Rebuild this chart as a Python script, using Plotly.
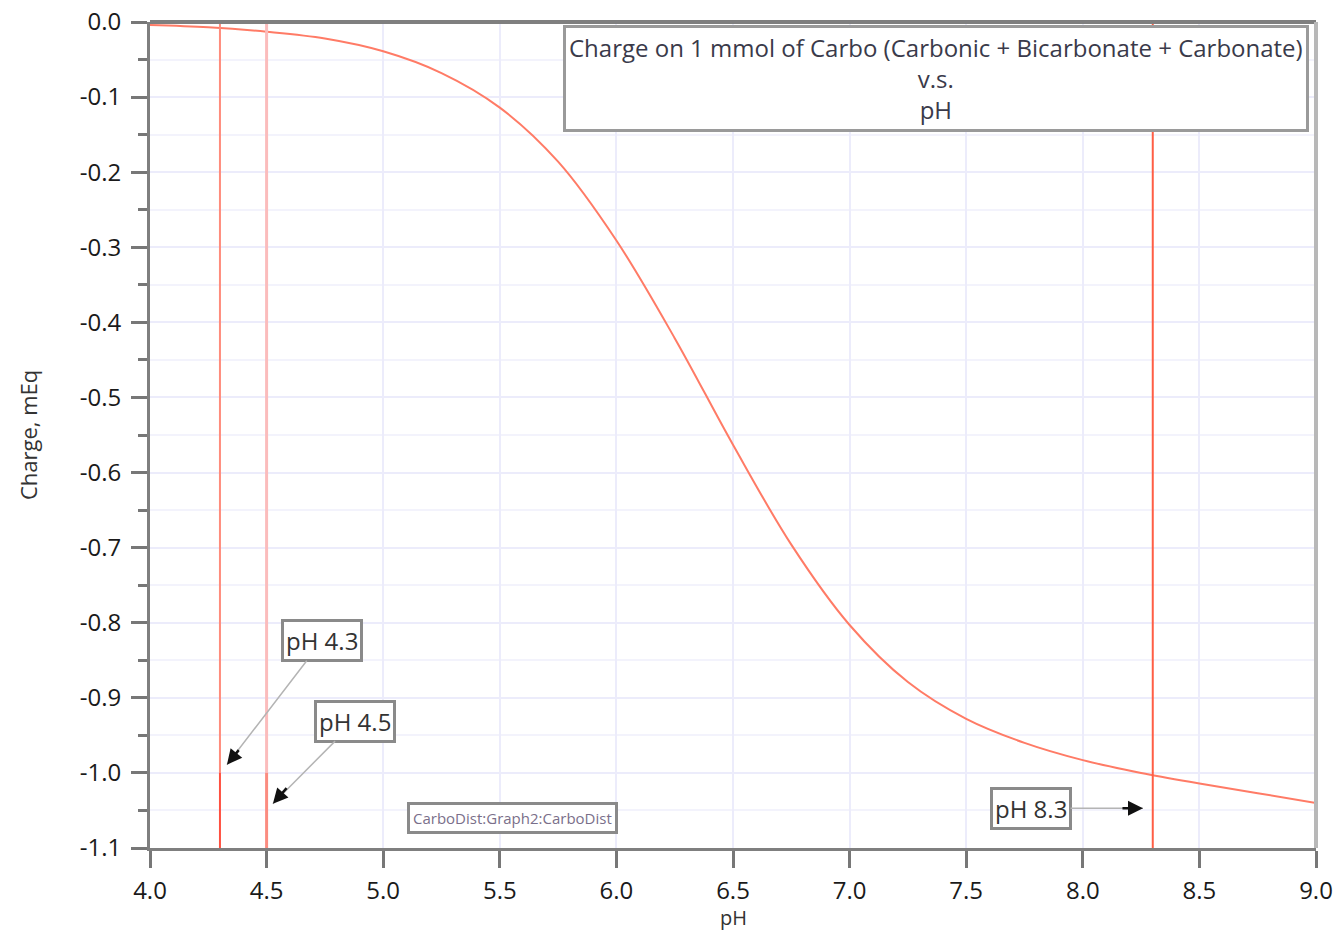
import plotly.graph_objects as go

# ---- data ----
ph = [4.0, 4.25, 4.5, 4.75, 5.0, 5.25, 5.5, 5.75, 6.0, 6.25, 6.5, 6.75,
      7.0, 7.25, 7.5, 7.75, 8.0, 8.25, 8.5, 8.75, 9.0]
charge = [-0.004, -0.007, -0.013, -0.022, -0.039, -0.068, -0.114, -0.186,
          -0.291, -0.421, -0.563, -0.696, -0.803, -0.879, -0.928, -0.960,
          -0.983, -1.000, -1.014, -1.027, -1.040]

y_tick_vals = [0.0, -0.1, -0.2, -0.3, -0.4, -0.5, -0.6, -0.7, -0.8, -0.9, -1.0, -1.1]
y_tick_labels = ["0.0", "-0.1", "-0.2", "-0.3", "-0.4", "-0.5", "-0.6", "-0.7",
                 "-0.8", "-0.9", "-1.0", "-1.1"]
x_tick_vals = [4.0, 4.5, 5.0, 5.5, 6.0, 6.5, 7.0, 7.5, 8.0, 8.5, 9.0]
x_tick_labels = ["4.0", "4.5", "5.0", "5.5", "6.0", "6.5", "7.0", "7.5", "8.0", "8.5", "9.0"]

marker_ph = [4.3, 4.5, 8.3]
marker_labels = ["pH 4.3", "pH 4.5", "pH 8.3"]
upper_colors = ["#ff8c7c", "#fbbcbc", "#ff5e45"]
lower_colors = ["#ff5040", "#fb8c80", "#ff5e45"]
line_widths = [2, 3, 2]

# annotation label centres and arrow heads (data coords)
label_pos = [(4.738, -0.824), (4.879, -0.931), (7.778, -1.047)]
head_pos = [(4.330, -0.989), (4.527, -1.041), (8.258, -1.047)]
head_offsets = [(13, -16), (15, -17), (-22, 0)]

title_lines = ["Charge on 1 mmol of Carbo (Carbonic + Bicarbonate + Carbonate)",
               "v.s.", "pH"]

FONT = "Open Sans"
TXT = "#333333"

fig = go.Figure()

fig.add_trace(go.Scatter(x=ph, y=charge, mode="lines",
                         line=dict(color="#ff7b66", width=2, shape="spline"),
                         hoverinfo="skip", showlegend=False))

shapes = []
for xv, cu, cl, w in zip(marker_ph, upper_colors, lower_colors, line_widths):
    shapes.append(dict(type="line", xref="x", yref="y", x0=xv, x1=xv,
                       y0=-1.0, y1=0.0, line=dict(color=cu, width=w), layer="above"))
    shapes.append(dict(type="line", xref="x", yref="y", x0=xv, x1=xv,
                       y0=-1.1, y1=-1.0, line=dict(color=cl, width=w), layer="above"))
# frame top / right
shapes.append(dict(type="line", xref="paper", yref="paper", x0=0, x1=1, y0=1, y1=1,
                   line=dict(color="#7f7f7f", width=4)))
shapes.append(dict(type="line", xref="paper", yref="paper", x0=1, x1=1, y0=0, y1=1,
                   line=dict(color="#b8b8b8", width=4)))

annotations = []
for lab, (tx, ty), (hx, hy), (ox, oy) in zip(marker_labels, label_pos, head_pos, head_offsets):
    annotations.append(dict(x=hx, y=hy, xref="x", yref="y", ax=tx, ay=ty,
                            axref="x", ayref="y", text=lab, showarrow=True,
                            arrowhead=0, arrowwidth=1.5, arrowcolor="#b4b4b4",
                            font=dict(family=FONT, size=24, color=TXT),
                            bgcolor="white", bordercolor="#8a8a8a",
                            borderwidth=3, borderpad=2))
    annotations.append(dict(x=hx, y=hy, xref="x", yref="y", ax=ox, ay=oy,
                            text="", showarrow=True, arrowhead=2, arrowsize=1.2,
                            arrowwidth=2.5, arrowcolor="#111111"))

annotations.append(dict(x=0.674, y=0.932, xref="paper", yref="paper",
                        text="<br>".join(title_lines), showarrow=False,
                        align="center", xanchor="center", yanchor="middle",
                        font=dict(family=FONT, size=24, color="#3a3a4a"),
                        bgcolor="white", bordercolor="#9a9a9a", borderwidth=3,
                        borderpad=3))
annotations.append(dict(x=0.3113, y=0.0363, xref="paper", yref="paper",
                        text="CarboDist:Graph2:CarboDist", showarrow=False,
                        xanchor="center", yanchor="middle",
                        font=dict(family=FONT, size=15, color="#7a6f8a"),
                        bgcolor="white", bordercolor="#8a8a8a", borderwidth=3,
                        borderpad=3))
annotations.append(dict(x=-0.1046, y=0.5, xref="paper", yref="paper",
                        text="Charge, mEq", textangle=-90, showarrow=False,
                        xanchor="center", yanchor="middle",
                        font=dict(family=FONT, size=22, color=TXT)))
annotations.append(dict(x=0.5, y=-0.084, xref="paper", yref="paper",
                        text="pH", showarrow=False,
                        xanchor="center", yanchor="middle",
                        font=dict(family=FONT, size=20, color=TXT)))

fig.update_layout(
    width=1335, height=934,
    margin=dict(l=150, r=19, t=22, b=86, autoexpand=False),
    paper_bgcolor="white", plot_bgcolor="white",
    font=dict(family=FONT, size=24, color="#1a1a1a"),
    shapes=shapes, annotations=annotations, showlegend=False,
    xaxis=dict(range=[4, 9], tickvals=x_tick_vals, ticktext=x_tick_labels,
               showline=True, linecolor="#7f7f7f", linewidth=3,
               ticks="outside", ticklen=17, tickwidth=2.5, tickcolor="#777777",
               showgrid=True, gridcolor="#ececfb", gridwidth=1.5,
               zeroline=False, ticklabelstandoff=2, fixedrange=True,
               automargin=False, ticklabeloverflow="allow"),
    yaxis=dict(range=[-1.1, 0], tickvals=y_tick_vals, ticktext=y_tick_labels,
               showline=True, linecolor="#7f7f7f", linewidth=3,
               ticks="outside", ticklen=16, tickwidth=2.5, tickcolor="#777777",
               showgrid=True, gridcolor="#ececfb", gridwidth=1.5,
               minor=dict(dtick=0.05, tick0=0, ticks="outside", ticklen=9, tickwidth=2.5,
                          tickcolor="#777777", showgrid=True,
                          gridcolor="#f3f3fc", gridwidth=1.5),
               zeroline=False, ticklabelstandoff=5, fixedrange=True,
               automargin=False, ticklabeloverflow="allow"),
)

# remove the default 8px page margin so the figure fills the window exactly
fig.write_html("out.html", config={"displayModeBar": False},
               post_script="document.body.style.margin='0';")
